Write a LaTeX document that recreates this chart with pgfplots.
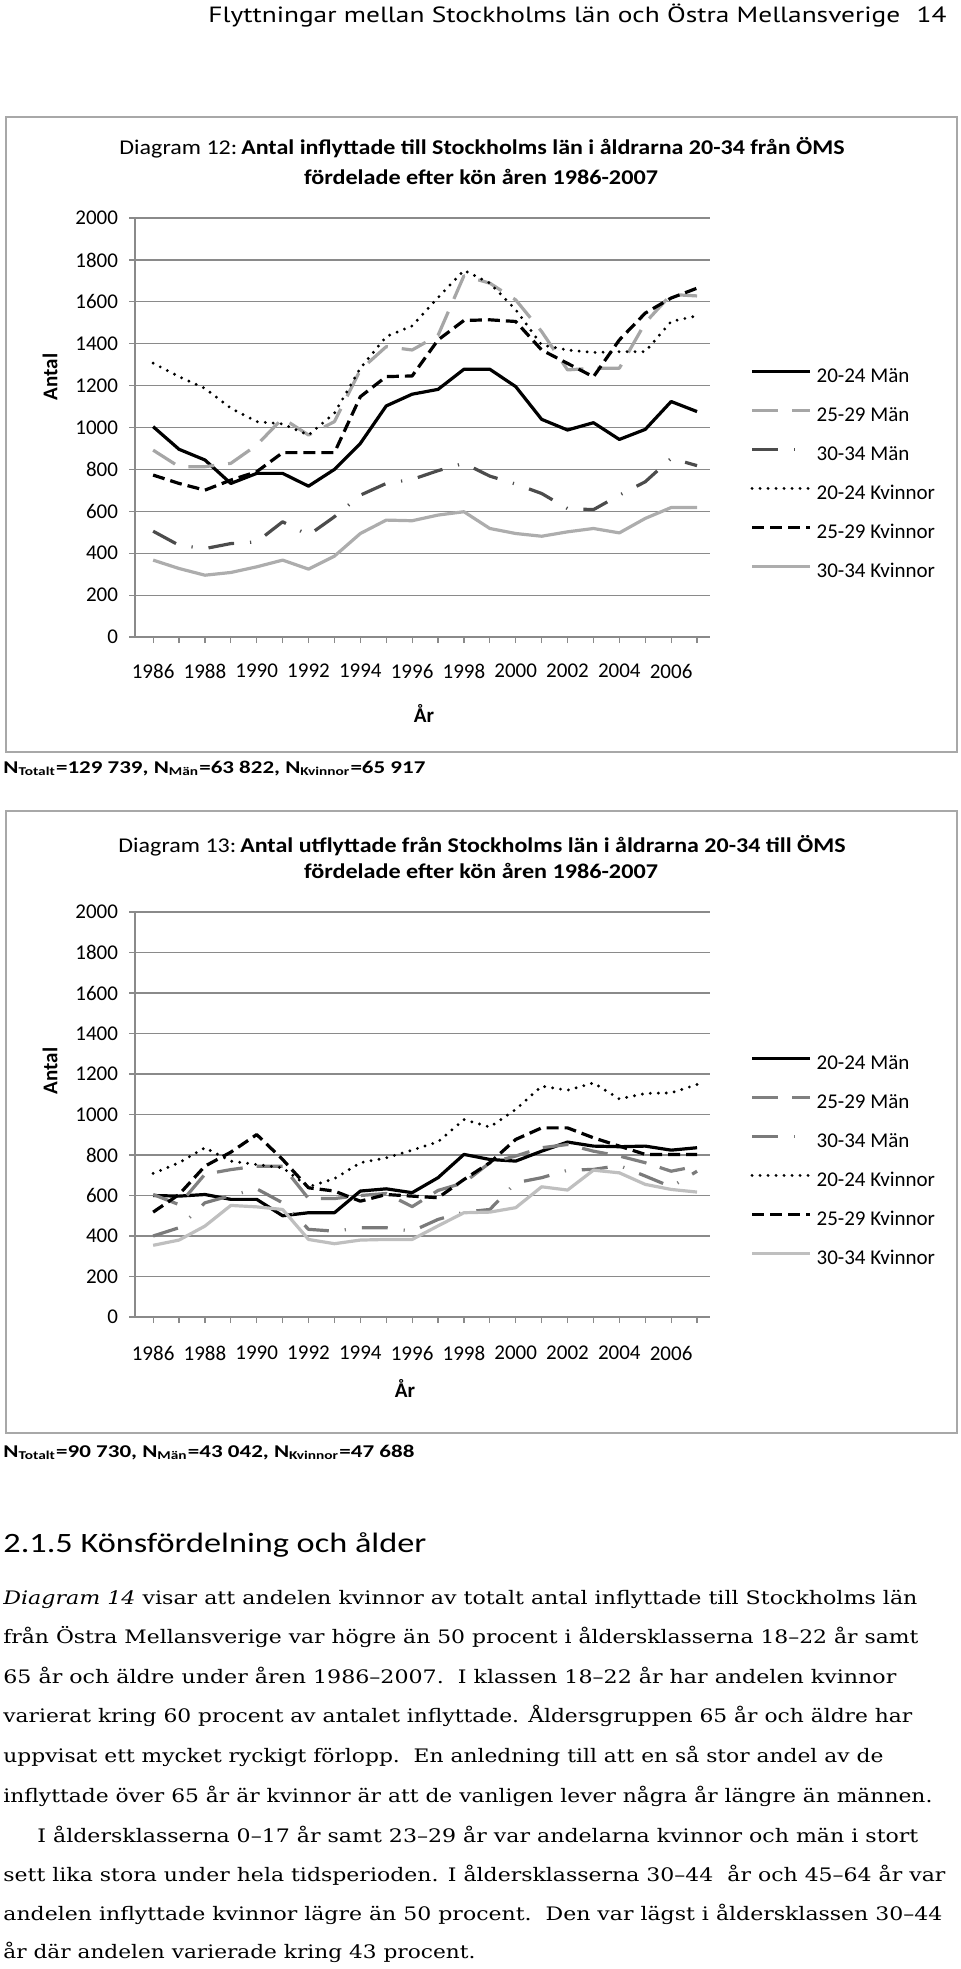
\documentclass[border=0pt]{standalone}
\usepackage{pgfplots}
\pgfplotsset{compat=1.18}
\usepackage{graphicx}
\usepackage{fontspec}
\setmainfont{Carlito}
\newfontfamily\serif{DejaVu Serif}
\newfontfamily\headsans{PT Sans}

% inflyttade (Diagram 12)
\pgfplotstableread{
year m1   m2   m3  k1   k2   k3
1986 1004 892  505 1307 773  367
1987 896  813  438 1243 733  327
1988 845  813  422 1187 701  295
1989 733  829  446 1092 749  308
1990 781  916  454 1028 789  335
1991 781  1044 550 1017 880  367
1992 720  964  486 964  880  324
1993 800  1028 574 1068 880  386
1994 924  1275 677 1283 1147 494
1995 1103 1386 733 1434 1243 558
1996 1159 1370 752 1485 1246 555
1997 1182 1440 794 1620 1418 582
1998 1278 1724 829 1750 1511 598
1999 1278 1689 768 1689 1514 518
2000 1195 1609 730 1562 1506 494
2001 1039 1458 685 1394 1370 481
2002 988  1275 613 1370 1306 502
2003 1023 1283 608 1358 1242 518
2004 943  1283 677 1362 1418 497
2005 991  1500 741 1362 1546 566
2006 1124 1635 853 1506 1618 618
2007 1076 1628 818 1533 1665 618
}\inflyttade

% utflyttade (Diagram 13)
\pgfplotstableread{
year m1  m2  m3  k1   k2  k3
1986 600 605 400 709  518 354
1987 597 555 441 762  605 380
1988 605 705 564 836  745 449
1989 581 728 600 770  814 551
1990 581 745 633 753  901 544
1991 500 745 564 737  778 531
1992 515 585 433 643  638 383
1993 515 585 424 683  622 362
1994 622 600 441 762  572 380
1995 633 610 441 786  605 383
1996 614 545 424 824  597 383
1997 688 625 482 865  589 450
1998 803 663 518 975  679 515
1999 778 762 531 938  762 518
2000 770 795 663 1025 877 540
2001 819 836 688 1140 934 643
2002 864 852 725 1120 934 627
2003 844 819 729 1156 885 725
2004 841 795 748 1077 844 712
2005 844 762 696 1104 803 655
2006 824 720 643 1107 803 630
2007 836 745 720 1148 803 617
}\utflyttade

\definecolor{gridgray}{HTML}{8A8A8A}
\definecolor{framegray}{HTML}{A8A8A8}

\pgfplotsset{
  oms/.style={
    scale only axis, width=287.5pt,
    xmin=1985.3, xmax=2007.5, ymin=0, ymax=2000,
    axis x line*=bottom, axis y line*=left,
    axis line style={gridgray, line width=0.6pt},
    ytick={0,200,...,2000},
    xtick={1986,...,2007},
    xticklabels={1986,,1988,,1990,,1992,,1994,,1996,,1998,,2000,,2002,,2004,,2006,},
    tick align=outside, major tick length=3pt,
    tick style={gridgray, line width=0.6pt},
    ymajorgrids, major grid style={gridgray, line width=0.6pt},
    tick label style={font=\fontsize{10.5}{12}\selectfont},
    /pgf/number format/.cd, 1000 sep={}, assume math mode=true, /pgfplots/.cd,
    yticklabel style={xshift=-2pt},
    every axis plot/.append style={line join=round, no marks},
    legend cell align=left,
    legend style={draw=none, fill=none, inner sep=0pt, row sep=9pt, column sep=2.5pt,
      font=\fontsize{10.5}{12}\selectfont,
      nodes={inner sep=0pt, text height=8pt, text depth=2.5pt}},
    legend image code/.code={\draw[##1] (0pt,3pt) -- (29pt,3pt);},
  },
  s1/.style={black, line width=1.6pt},
  s2/.style={#1, line width=1.6pt, dash pattern=on 13pt off 7pt},
  s3/.style={#1, line width=1.6pt, dash pattern=on 13pt off 8pt on 0.6pt off 8pt},
  s4/.style={black, line width=1.6pt, line cap=round, dash pattern=on 0pt off 4pt},
  s5/.style={black, line width=1.6pt, dash pattern=on 6pt off 3pt},
  s6/.style={#1, line width=1.6pt},
}

\newcommand\pline[4]{\node[anchor=base west, inner sep=0pt] at (#1,#2)
  {\resizebox{#3}{\height}{\serif\fontsize{9.3}{11}\selectfont #4}};}

\begin{document}
\begin{tikzpicture}
\begin{scope}[x=0.5pt, y=-0.5pt]
\path[use as bounding box] (0,0) rectangle (960,1969);

\node[anchor=base west, inner sep=0pt] at (208,23)
  {\resizebox{369pt}{\height}{\headsans\fontsize{11}{13}\selectfont Flyttningar mellan Stockholms län och Östra Mellansverige\hspace{0.6em}14}};

\draw[framegray, line width=1pt] (6,117) rectangle (957,752);
\draw[framegray, line width=1pt] (6,811) rectangle (957,1433);

\node[anchor=base, inner sep=0pt] at (482,155)
  {\resizebox{362.5pt}{\height}{\fontsize{10.5}{12}\selectfont Diagram 12:\,\textbf{Antal inflyttade till Stockholms län i åldrarna 20-34 från ÖMS}}};
\node[anchor=base, inner sep=0pt] at (481,185)
  {\resizebox{177pt}{\height}{\fontsize{10.5}{12}\selectfont\bfseries fördelade efter kön åren 1986-2007}};
\node[anchor=base, inner sep=0pt] at (482,852)
  {\resizebox{363.5pt}{\height}{\fontsize{10.5}{12}\selectfont Diagram 13:\,\textbf{Antal utflyttade från Stockholms län i åldrarna 20-34 till ÖMS}}};
\node[anchor=base, inner sep=0pt] at (481,878)
  {\resizebox{177pt}{\height}{\fontsize{10.5}{12}\selectfont\bfseries fördelade efter kön åren 1986-2007}};

\node[rotate=90, font=\fontsize{10.5}{12}\selectfont\bfseries] at (50,377) {Antal};
\node[rotate=90, font=\fontsize{10.5}{12}\selectfont\bfseries] at (50,1071) {Antal};
\node[font=\fontsize{10.5}{12}\selectfont\bfseries] at (424,713) {År};
\node[font=\fontsize{10.5}{12}\selectfont\bfseries] at (405,1388) {År};

\node[anchor=base west, inner sep=0pt] at (3,773)
  {\resizebox{211pt}{\height}{\fontsize{9}{11}\selectfont\bfseries N\textsubscript{Totalt}=129 739, N\textsubscript{Män}=63 822, N\textsubscript{Kvinnor}=65 917}};
\node[anchor=base west, inner sep=0pt] at (3,1457)
  {\resizebox{205.5pt}{\height}{\fontsize{9}{11}\selectfont\bfseries N\textsubscript{Totalt}=90 730, N\textsubscript{Män}=43 042, N\textsubscript{Kvinnor}=47 688}};

\node[anchor=base west, inner sep=0pt] at (3,1552)
  {\resizebox{211.5pt}{\height}{\fontsize{14}{16}\selectfont 2.1.5 Könsfördelning och ålder}};

\pline{3}{1604}{457pt}{{\itshape Diagram 14} visar att andelen kvinnor av totalt antal inflyttade till Stockholms län}
\pline{3}{1643}{457.5pt}{från Östra Mellansverige var högre än 50 procent i åldersklasserna 18–22 år samt}
\pline{3}{1683}{446.5pt}{65 år och äldre under åren 1986–2007.\ \ I klassen 18–22 år har andelen kvinnor}
\pline{3}{1722}{454.5pt}{varierat kring 60 procent av antalet inflyttade. Åldersgruppen 65 år och äldre har}
\pline{3}{1762}{440pt}{uppvisat ett mycket ryckigt förlopp.\ \ En anledning till att en så stor andel av de}
\pline{3}{1802}{464.5pt}{inflyttade över 65 år är kvinnor är att de vanligen lever några år längre än männen.}
\pline{37}{1842}{440.5pt}{I åldersklasserna 0–17 år samt 23–29 år var andelarna kvinnor och män i stort}
\pline{3}{1881}{471pt}{sett lika stora under hela tidsperioden. I åldersklasserna 30–44\ \ år och 45–64 år var}
\pline{3}{1920}{469.5pt}{andelen inflyttade kvinnor lägre än 50 procent.\ \ Den var lägst i åldersklassen 30–44}
\pline{3}{1958}{236pt}{år där andelen varierade kring 43 procent.}
\end{scope}

\begin{axis}[oms, at={(67.5pt,-318.5pt)}, anchor=south west, height=209.5pt,
  xticklabel style={yshift=-7pt},
  legend style={at={(rel axis cs:1.0696,0.6456)}, anchor=north west}]
\addplot[s1] table[x=year, y=m1] {\inflyttade};
\addplot[s2=black!35] table[x=year, y=m2] {\inflyttade};
\addplot[s3=black!70] table[x=year, y=m3] {\inflyttade};
\addplot[s4] table[x=year, y=k1] {\inflyttade};
\addplot[s5] table[x=year, y=k2] {\inflyttade};
\addplot[s6=black!32] table[x=year, y=k3] {\inflyttade};
\legend{20-24 Män, 25-29 Män, 30-34 Män, 20-24 Kvinnor, 25-29 Kvinnor, 30-34 Kvinnor}
\end{axis}

\begin{axis}[oms, at={(67.5pt,-658.5pt)}, anchor=south west, height=202.5pt,
  xticklabel style={yshift=-8pt},
  legend style={at={(rel axis cs:1.0696,0.6506)}, anchor=north west}]
\addplot[s1] table[x=year, y=m1] {\utflyttade};
\addplot[s2=black!50] table[x=year, y=m2] {\utflyttade};
\addplot[s3=black!52] table[x=year, y=m3] {\utflyttade};
\addplot[s4] table[x=year, y=k1] {\utflyttade};
\addplot[s5] table[x=year, y=k2] {\utflyttade};
\addplot[s6=black!25] table[x=year, y=k3] {\utflyttade};
\legend{20-24 Män, 25-29 Män, 30-34 Män, 20-24 Kvinnor, 25-29 Kvinnor, 30-34 Kvinnor}
\end{axis}
\end{tikzpicture}
\end{document}
